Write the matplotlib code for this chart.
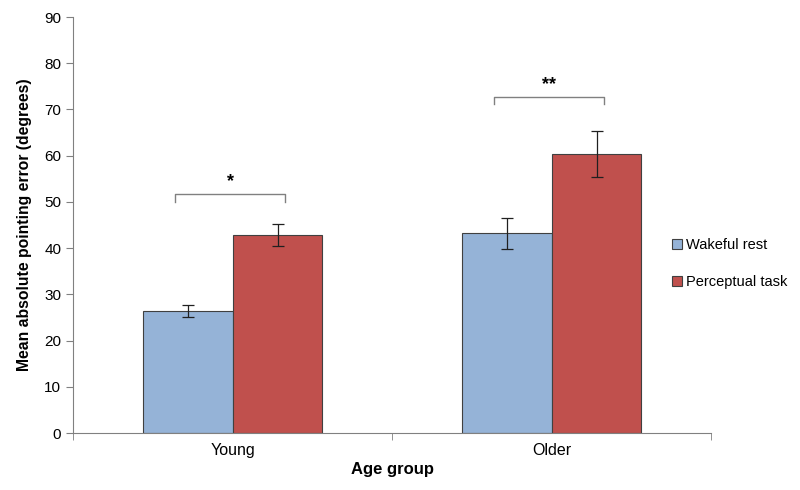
"""
Mean absolute pointing error by age group: wakeful rest vs perceptual task
"""
import numpy as np
import matplotlib
matplotlib.use("Agg")
import matplotlib.pyplot as plt

plt.rcParams["font.family"] = ["Liberation Sans", "DejaVu Sans"]

GROUPS = ["Young", "Older"]
SERIES = ["Wakeful rest", "Perceptual task"]
MEANS = {
    "Wakeful rest": [26.3, 43.2],
    "Perceptual task": [42.9, 60.4],
}
ERRORS = {
    "Wakeful rest": [1.3, 3.4],
    "Perceptual task": [2.4, 5.0],
}
COLORS = {"Wakeful rest": "#95B3D7", "Perceptual task": "#C0504D"}
SIG_LABELS = ["*", "**"]
SIG_HEIGHTS = [51.7, 72.8]


def main():
    fig = plt.figure(figsize=(8, 4.9), dpi=100)
    ax = fig.add_axes([0.0913, 0.1163, 0.7975, 0.8490])

    x = np.arange(len(GROUPS))
    width = 0.282
    offsets = [-width / 2, width / 2]

    for s, off in zip(SERIES, offsets):
        ax.bar(x + off, MEANS[s], width, color=COLORS[s], edgecolor="#404040",
               linewidth=0.8, label=s, zorder=2)
        ax.errorbar(x + off, MEANS[s], yerr=ERRORS[s], fmt="none",
                    ecolor="#202020", elinewidth=0.9, capsize=4, capthick=0.9,
                    zorder=3)

    # significance brackets
    for xi, h, lab in zip(x, SIG_HEIGHTS, SIG_LABELS):
        x0, x1 = xi - 0.18, xi + 0.165
        ax.plot([x0, x0, x1, x1], [h - 1.7, h, h, h - 1.7], color="#808080",
                linewidth=1.0, zorder=3)
        ax.text((x0 + x1) / 2, h + 0.8, lab, ha="center", va="bottom",
                fontsize=13, fontweight="bold")

    ax.set_xlim(-0.5, 1.5)
    ax.set_ylim(0, 90)
    ax.set_yticks(np.arange(0, 91, 10))
    ax.set_xticks(x)
    ax.set_xticklabels(GROUPS)
    ax.set_xticks([-0.5, 0.5, 1.5], minor=True)
    ax.tick_params(axis="x", which="major", length=0, pad=7, labelsize=11.5)
    ax.tick_params(axis="x", which="minor", length=5, color="#808080")
    ax.tick_params(axis="y", length=5, color="#808080", labelsize=11)

    for side in ["top", "right"]:
        ax.spines[side].set_visible(False)
    for side in ["left", "bottom"]:
        ax.spines[side].set_color("#808080")

    ax.set_xlabel("Age group", fontsize=12, fontweight="bold", labelpad=3)
    ax.set_ylabel("Mean absolute pointing error (degrees)", fontsize=11.3,
                  fontweight="bold", labelpad=9)

    fig.legend(loc="center left", bbox_to_anchor=(0.823, 0.462), frameon=False,
               fontsize=10.5, handlelength=0.7, handleheight=0.7,
               handletextpad=0.3, labelspacing=1.55)

    plt.savefig("out.png", dpi=100)
    plt.close()


if __name__ == "__main__":
    main()
